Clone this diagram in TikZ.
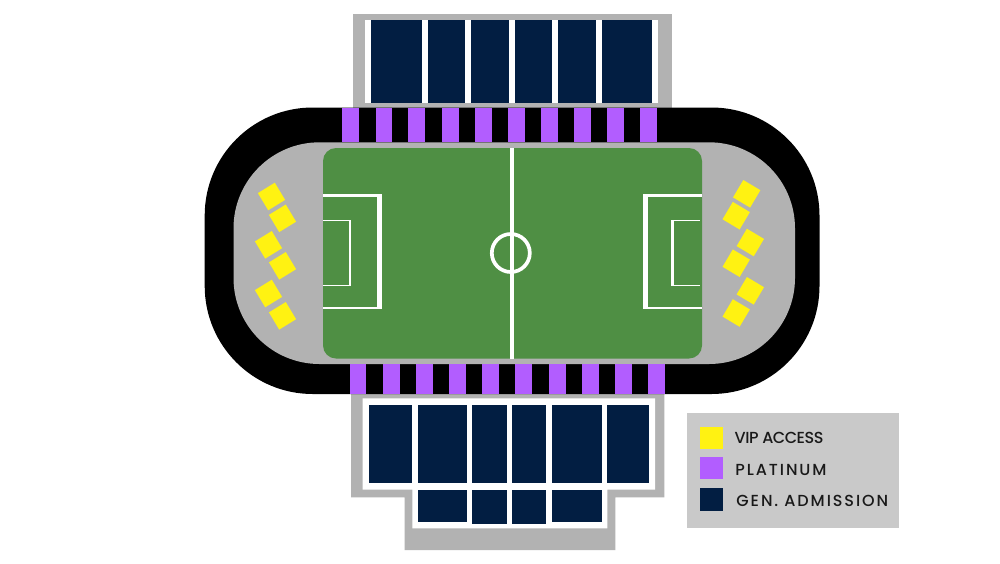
\documentclass[tikz,border=0pt]{standalone}
\usepackage{fontspec}
\newfontfamily\lgA[LetterSpace=-3]{Poppins Medium}
\newfontfamily\lgB[LetterSpace=12]{Poppins Medium}
\newfontfamily\lgC[LetterSpace=12]{Poppins Medium}
\definecolor{navy}{HTML}{021E42}
\definecolor{purp}{HTML}{B25DFF}
\definecolor{pitch}{HTML}{4F8F44}
\definecolor{stand}{HTML}{B2B2B2}
\definecolor{vip}{HTML}{FFF212}
\definecolor{legbg}{HTML}{C9C9C9}
\tikzset{
  nv/.style={fill=navy,draw=none},
  pu/.style={fill=purp,draw=none},
  seat/.style={fill=vip,draw=none},
  mark line/.style={draw=white,fill=none},
  legtext/.style={anchor=west,inner sep=0pt,text=black!90,font=\fontsize{8}{8}\selectfont},
}
\begin{document}
\begin{tikzpicture}[x=0.5pt,y=-0.5pt]
\useasboundingbox (0,0) rectangle (1000,563);
\fill[white] (0,0) rectangle (1000,563);
% top stand
\fill[stand] (352.7,13.5) rectangle (671.7,109);
\fill[white] (365.3,20) rectangle (658,103);
\foreach \a/\b in {371.3/421.7,427.7/465.3,470.7/509,515/552.3,558.3/596.3,602/652.3}
  \fill[nv] (\a,20) rectangle (\b,102.5);
% bottom stand
\fill[stand] (351,393) -- (664.3,393) -- (664.3,497.3) -- (615.3,497.3) -- (615.3,550) -- (404.7,550) -- (404.7,497.3) -- (351,497.3) -- cycle;
\fill[white] (362.7,398.3) -- (655,398.3) -- (655,489.7) -- (607.3,489.7) -- (607.3,528.3) -- (412.3,528.3) -- (412.3,489.7) -- (362.7,489.7) -- cycle;
\foreach \a/\b in {369/412.3,418.3/466.7,472.3/506.7,512.3/545.7,551.7/601.7,607.3/649.3}
  \fill[nv] (\a,405) rectangle (\b,483.3);
\foreach \a/\b/\c in {418.3/466.7/522.3,472.3/506.7/523.7,512.3/545.7/523.7,551.7/601.7/522.3}
  \fill[nv] (\a,490) rectangle (\b,\c);
% bowl
\fill[black,rounded corners=54pt] (204.7,107.5) rectangle (819.5,394);
\fill[stand,rounded corners=43pt] (233.5,142.3) rectangle (795,364);
\foreach \a/\b in {342.3/359,375.7/392.3,408.3/425.3,442/458.7,475/491.7,508/525,541/557.7,574/591,607/623.7,640.3/657}
  \fill[pu] (\a,107.5) rectangle (\b,142.3);
\foreach \a/\b in {350/366.3,383/400,416/432.7,449/466,482/499,515/532.3,548.7/565.7,581.7/598.7,615/632,648/664.7}
  \fill[pu] (\a,364) rectangle (\b,394);
% pitch
\fill[pitch,rounded corners=6.5pt] (323,148) rectangle (702,358.5);
\fill[white] (510.2,148) rectangle (513.7,358.5);
\draw[mark line,line width=1.85pt] (510.8,253) circle (19);
% left boxes
\fill[white] (323,194.3) rectangle (381.7,309);
\fill[pitch] (323,196.7) rectangle (376.7,307.3);
\fill[white] (323,220) rectangle (351,286);
\fill[pitch] (323,221.3) rectangle (348.5,284.7);
% right boxes
\fill[white] (642.7,194.3) rectangle (702,309);
\fill[pitch] (647.7,196.7) rectangle (702,307.3);
\fill[white] (671,220) rectangle (700,286);
\fill[pitch] (674,221.3) rectangle (700,284.7);
% VIP seats
\foreach \x/\y in {271.5/196.5,282.5/218.3,268.5/244.8,282.5/265.8,268.5/293.5,282.5/315.8}
  \fill[seat,shift={(\x,\y)}] (3.3,-13.8) -- (13.6,3.4) -- (-3.3,13.8) -- (-13.6,-3.4) -- cycle;
\foreach \x/\y in {746.7/193.8,736.2/215.7,750.3/242.5,736.2/263.2,750.3/290.8,736.2/313}
  \fill[seat,shift={(\x,\y)}] (-3.4,-13.8) -- (13.7,-3.6) -- (3.4,13.8) -- (-13.7,3.6) -- cycle;
% legend
\fill[legbg] (687.3,413.3) rectangle (899,528.3);
\fill[vip] (700,426.7) rectangle (723.3,449);
\fill[pu] (700.3,456.7) rectangle (723.3,479);
\fill[nv] (699.7,488.3) rectangle (722.7,511);
\node[legtext] (l1) at (734.3,438) {\lgA VIP ACCESS};
\node[legtext] (l2) at (735,470) {\lgB PLATINUM};
\node[legtext] (l3) at (736,501) {\lgC GEN. ADMISSION};
\end{tikzpicture}
\end{document}
